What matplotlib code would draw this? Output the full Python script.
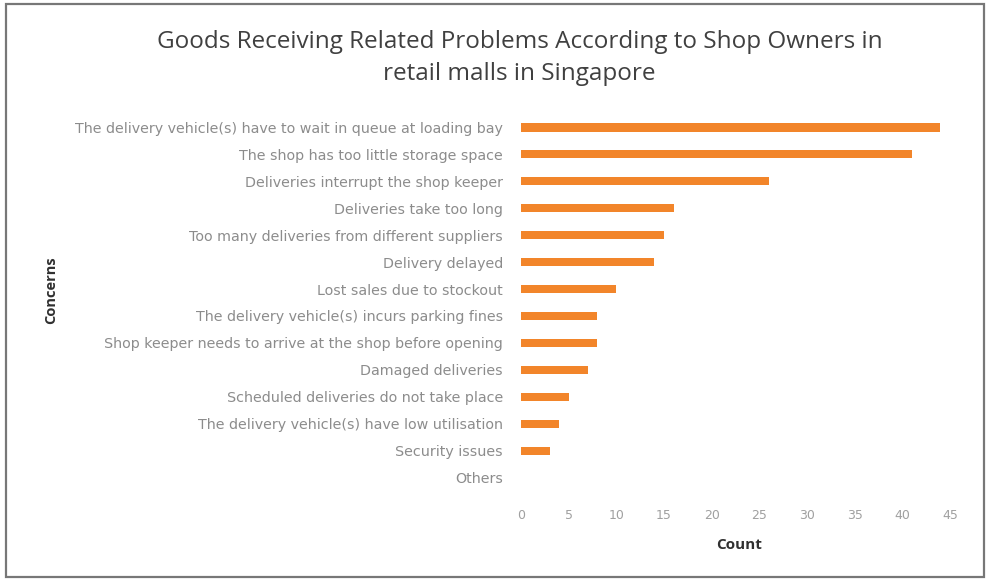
import matplotlib
matplotlib.use("Agg")
import matplotlib.pyplot as plt
from matplotlib.patches import Rectangle

concerns = [
    "The delivery vehicle(s) have to wait in queue at loading bay",
    "The shop has too little storage space",
    "Deliveries interrupt the shop keeper",
    "Deliveries take too long",
    "Too many deliveries from different suppliers",
    "Delivery delayed",
    "Lost sales due to stockout",
    "The delivery vehicle(s) incurs parking fines",
    "Shop keeper needs to arrive at the shop before opening",
    "Damaged deliveries",
    "Scheduled deliveries do not take place",
    "The delivery vehicle(s) have low utilisation",
    "Security issues",
    "Others",
]
counts = [44, 41, 26, 16, 15, 14, 10, 8, 8, 7, 5, 4, 3, 0]
x_ticks = [0, 5, 10, 15, 20, 25, 30, 35, 40, 45]

plt.rcParams["font.family"] = ["Open Sans", "DejaVu Sans"]

fig = plt.figure(figsize=(9.88, 5.80), dpi=100)
fig.patch.set_facecolor("white")

# outer frame
fig.patches.append(Rectangle((6 / 988, 3 / 580), 978 / 988, 573 / 580,
                             transform=fig.transFigure, fill=False,
                             edgecolor="#777777", linewidth=1.6))

ax = fig.add_axes([0.5273, 0.1483, 0.4342, 0.6603])
y = list(range(len(concerns)))
ax.barh(y, counts, height=0.32, color="#F2852A", edgecolor="none")
ax.set_ylim(13.6, -0.6)
ax.set_xlim(0, 45)
ax.set_yticks(y)
ax.set_yticklabels(concerns, fontsize=10.3, color="#8c8c8c", family="DejaVu Sans")
ax.set_xticks(x_ticks)
ax.set_xticklabels([str(t) for t in x_ticks], fontsize=9, color="#a0a0a0",
                   family="DejaVu Sans")
ax.tick_params(axis="y", length=0, pad=13)
ax.tick_params(axis="x", length=0, pad=11)
for s in ax.spines.values():
    s.set_visible(False)

fig.text(0.526, 0.927, "Goods Receiving Related Problems According to Shop Owners in",
         ha="center", va="center", fontsize=17.5, color="#404040")
fig.text(0.526, 0.873, "retail malls in Singapore",
         ha="center", va="center", fontsize=17.5, color="#404040")
fig.text(0.748, 0.060, "Count", ha="center", va="center", fontsize=11,
         fontweight="bold", color="#303030")
fig.text(0.052, 0.50, "Concerns", ha="center", va="center", fontsize=10.5,
         fontweight="bold", color="#303030", rotation=90)

fig.savefig("out.png", dpi=100)
